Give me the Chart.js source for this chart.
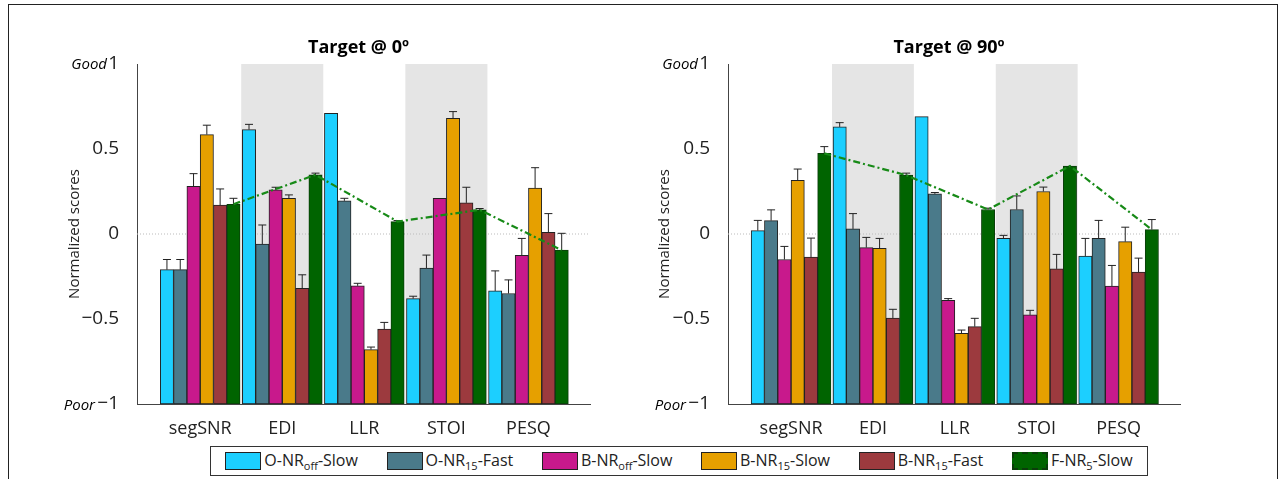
<!DOCTYPE html>
<html>
<head>
<meta charset="utf-8">
<script src="https://cdn.jsdelivr.net/npm/chart.js@4.4.1/dist/chart.umd.min.js"></script>
<style>
body { margin: 0; background: #fff; font-family: "Open Sans", "DejaVu Sans", sans-serif; }
#frame { position: absolute; left: 8px; top: 4px; width: 1268px; height: 480px; border: 1px solid #222; border-bottom: none; }
#c0 { position: absolute; left: 0; top: 0; }
#c1 { position: absolute; left: 600px; top: 0; }
#legend { position: absolute; left: 210px; top: 446px; width: 936px; height: 28px; border: 1px solid #333; display: flex; align-items: center; justify-content: space-around; font-size: 16px; color: #222; }
.it { display: flex; align-items: center; }
.sw { width: 36px; height: 18px; border: 1px solid #222; margin-right: 3px; box-sizing: border-box; }
sub { font-size: 11px; }
</style>
</head>
<body>
<div id="frame"></div>
<canvas id="c0" width="600" height="440"></canvas>
<canvas id="c1" width="600" height="440"></canvas>
<div id="legend"></div>
<script>
const categories = ['segSNR', 'EDI', 'LLR', 'STOI', 'PESQ'];
const seriesNames = ['O-NR<sub>off</sub>-Slow', 'O-NR<sub>15</sub>-Fast', 'B-NR<sub>off</sub>-Slow', 'B-NR<sub>15</sub>-Slow', 'B-NR<sub>15</sub>-Fast', 'F-NR<sub>5</sub>-Slow'];
const colors = ['#1ccfff', '#4a7a8a', '#c8198c', '#e6a000', '#9c3a3e', '#006400'];
const yTicks = [-1, -0.5, 0, 0.5, 1];

// Target @ 0°: mean per series (rows) and category (cols), plus upper error value
const values0 = [
    [-0.21, 0.614, 0.71, -0.38, -0.335],
    [-0.21, -0.06, 0.195, -0.2, -0.35],
    [0.28, 0.26, -0.305, 0.21, -0.126],
    [0.585, 0.21, -0.68, 0.68, 0.27],
    [0.17, -0.32, -0.56, 0.183, 0.01],
    [0.175, 0.348, 0.073, 0.142, -0.095]
];
const upper0 = [
    [-0.15, 0.645, 0.71, -0.366, -0.217],
    [-0.15, 0.053, 0.21, -0.124, -0.27],
    [0.355, 0.275, -0.29, 0.215, -0.026],
    [0.64, 0.23, -0.665, 0.72, 0.39],
    [0.265, -0.24, -0.52, 0.275, 0.12],
    [0.21, 0.358, 0.079, 0.15, 0.004]
];
// Target @ 90°
const values90 = [
    [0.02, 0.63, 0.69, -0.026, -0.13],
    [0.079, 0.03, 0.236, 0.144, -0.026],
    [-0.15, -0.08, -0.39, -0.476, -0.307],
    [0.315, -0.085, -0.585, 0.25, -0.045],
    [-0.136, -0.494, -0.545, -0.205, -0.224],
    [0.474, 0.346, 0.144, 0.4, 0.026]
];
const upper90 = [
    [0.08, 0.655, 0.69, -0.008, -0.026],
    [0.142, 0.12, 0.244, 0.224, 0.08],
    [-0.073, -0.02, -0.38, -0.449, -0.185],
    [0.382, -0.026, -0.565, 0.276, 0.04],
    [-0.024, -0.443, -0.496, -0.12, -0.142],
    [0.514, 0.358, 0.152, 0.404, 0.085]
];
const shadedCats = [1, 3];

Chart.defaults.font.family = '"Open Sans", "DejaVu Sans", sans-serif';
Chart.defaults.color = '#333';

const decor = {
    id: 'decor',
    beforeDatasetsDraw(chart) {
        const c = chart.ctx, a = chart.chartArea, x = chart.scales.x, y = chart.scales.y;
        c.save();
        c.fillStyle = '#e5e5e5';
        shadedCats.forEach(i => {
            const l = x.getPixelForValue(i - 0.5), r = x.getPixelForValue(i + 0.5);
            c.fillRect(l, a.top, r - l, a.bottom - a.top);
        });
        c.strokeStyle = '#bbb';
        c.setLineDash([1, 2]);
        c.beginPath();
        c.moveTo(a.left, y.getPixelForValue(0));
        c.lineTo(a.right, y.getPixelForValue(0));
        c.stroke();
        c.restore();
    },
    afterDraw(chart, args, opts) {
        const c = chart.ctx, y = chart.scales.y, a = chart.chartArea;
        c.save();
        // error whiskers (upper side only)
        c.strokeStyle = '#222';
        c.lineWidth = 1;
        chart.data.datasets.forEach((ds, d) => {
            chart.getDatasetMeta(d).data.forEach((bar, i) => {
                const base = y.getPixelForValue(ds.data[i].y[1]);
                const top = y.getPixelForValue(ds.upper[i]);
                if (Math.abs(top - base) < 1) return;
                c.beginPath();
                c.moveTo(bar.x, base);
                c.lineTo(bar.x, top);
                c.moveTo(bar.x - 4, top);
                c.lineTo(bar.x + 4, top);
                c.stroke();
            });
        });
        // dash-dot line joining F-NR5-Slow bars
        const ds5 = chart.data.datasets[5];
        c.strokeStyle = '#178a17';
        c.lineWidth = 2.2;
        c.setLineDash([7, 3, 2, 3]);
        c.beginPath();
        chart.getDatasetMeta(5).data.forEach((bar, i) => {
            const py = y.getPixelForValue(ds5.data[i].y[1]);
            if (i === 0) c.moveTo(bar.x, py);
            else c.lineTo(bar.x, py);
        });
        c.stroke();
        c.setLineDash([]);
        // title and Good/Poor labels
        c.fillStyle = '#000';
        c.font = 'bold 18px "Open Sans", sans-serif';
        c.textAlign = 'center';
        c.fillText(opts.title, (a.left + a.right) / 2 - 5, 53);
        c.font = 'italic 15px "Open Sans", sans-serif';
        c.textAlign = 'right';
        c.fillText('Good', a.left - 30, y.getPixelForValue(1) + 5);
        c.fillText('Poor', a.left - 42, y.getPixelForValue(-1) + 6);
        c.restore();
    }
};

function makeChart(id, values, upper, title, padLeft, yWidth, padRight) {
    const datasets = values.map((row, s) => ({
        label: seriesNames[s],
        data: row.map((v, i) => ({ x: i, y: [-1, v] })),
        upper: upper[s],
        backgroundColor: colors[s],
        borderColor: s === 5 ? '#0b3d0b' : '#222',
        borderWidth: 1,
        borderSkipped: false
    }));
    return new Chart(document.getElementById(id), {
        type: 'bar',
        data: { datasets: datasets },
        plugins: [decor],
        options: {
            responsive: false,
            animation: false,
            datasets: { bar: { barThickness: 13.3 } },
            layout: { padding: { top: 64, right: padRight, left: padLeft, bottom: 0 } },
            plugins: { legend: { display: false }, tooltip: { enabled: false }, decor: { title: title } },
            scales: {
                x: {
                    type: 'linear', min: -0.77, max: 4.75, offset: false,
                    grid: { display: false },
                    border: { color: '#444' },
                    afterFit: s => { s.height = 36; },
                    afterBuildTicks: s => { s.ticks = categories.map((_, i) => ({ value: i })); },
                    ticks: { font: { size: 18 }, color: '#222', padding: 6, callback: v => categories[v] }
                },
                y: {
                    min: -1, max: 1,
                    grid: { display: false },
                    border: { color: '#444' },
                    afterFit: s => { s.width = yWidth; },
                    afterBuildTicks: s => { s.ticks = yTicks.map(v => ({ value: v })); },
                    ticks: { font: { size: 19 }, color: '#222', padding: 10, callback: v => v < 0 ? '\u2212' + Math.abs(v) : String(v) },
                    title: { display: true, text: 'Normalized scores', font: { size: 15 }, color: '#222', padding: 0 }
                }
            }
        }
    });
}

makeChart('c0', values0, upper0, 'Target @ 0\u00ba', 66, 71, 10);
makeChart('c1', values90, upper90, 'Target @ 90\u00ba', 56, 72, 20);

const lg = document.getElementById('legend');
seriesNames.forEach((n, s) => {
    const it = document.createElement('div');
    it.className = 'it';
    const style = s === 5 ? 'border:2px dashed #0b3d0b;' : '';
    it.innerHTML = '<div class="sw" style="background:' + colors[s] + ';' + style + '"></div><span>' + n + '</span>';
    lg.appendChild(it);
});
</script>
</body>
</html>
